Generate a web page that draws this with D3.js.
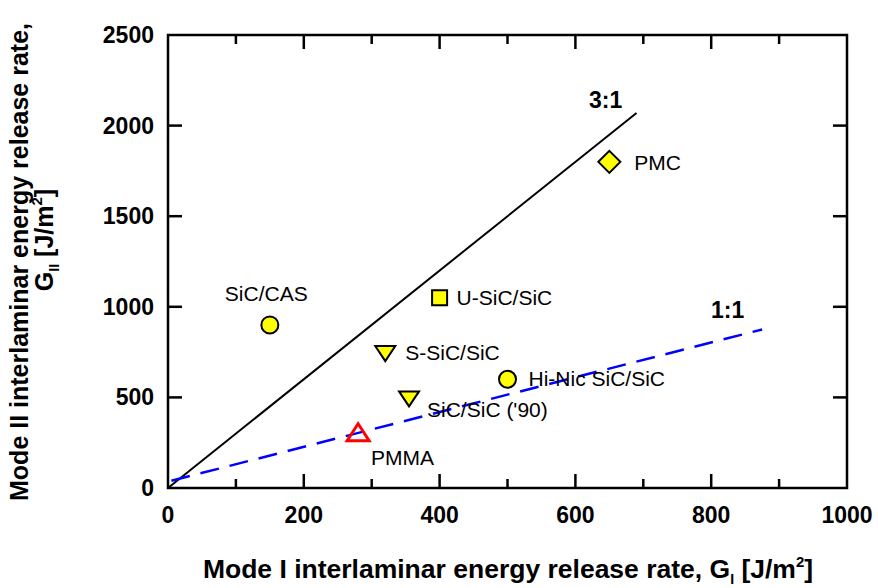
<!DOCTYPE html>
<html>
<head>
<meta charset="utf-8">
<script src="https://cdn.jsdelivr.net/npm/d3@7"></script>
<style>
  body { margin: 0; background: #fff; }
  svg { display: block; font-family: Arial, "Liberation Sans", sans-serif; }
</style>
</head>
<body>
<div id="chart"></div>
<script>
(function (d3) {
    'use strict';

    // materials, G_I and G_II in J/m^2
    var names   = ['SiC/CAS', 'PMC', 'U-SiC/SiC', 'S-SiC/SiC', 'Hi-Nic SiC/SiC', "SiC/SiC ('90)", 'PMMA'];
    var modeI   = [150, 650, 400, 320, 500, 355, 280];
    var modeII  = [900, 1800, 1050, 750, 600, 500, 305];
    var shapes  = ['circle', 'diamond', 'square', 'down', 'circle', 'down', 'up'];

    // reference lines
    var ratio31X = [0, 690];
    var ratio31Y = [0, 2070];
    var ratio11X = [5, 875];
    var ratio11Y = [40, 875];

    var xTicks = [0, 200, 400, 600, 800, 1000];
    var xMinor = [100, 300, 500, 700, 900];
    var yTicks = [0, 500, 1000, 1500, 2000, 2500];

    var width = 878, height = 588,
        left = 168, right = 847, top = 35, bottom = 488;

    var svg = d3.select('#chart').append('svg')
        .attr('width', width)
        .attr('height', height);

    var x = d3.scaleLinear().domain([0, 1000]).range([left, right]),
        y = d3.scaleLinear().domain([0, 2500]).range([bottom, top]);

    // frame
    svg.append('rect')
        .attr('x', left).attr('y', top)
        .attr('width', right - left).attr('height', bottom - top)
        .attr('fill', 'none').attr('stroke', '#000').attr('stroke-width', 2.5);

    // inward ticks on all four sides
    var major = 14, minor = 9;
    function hTicks(vals, len) {
        vals.forEach(function (v) {
            svg.append('line').attr('x1', x(v)).attr('x2', x(v))
                .attr('y1', bottom).attr('y2', bottom - len)
                .attr('stroke', '#000').attr('stroke-width', 2.5);
            svg.append('line').attr('x1', x(v)).attr('x2', x(v))
                .attr('y1', top).attr('y2', top + len)
                .attr('stroke', '#000').attr('stroke-width', 2.5);
        });
    }
    hTicks(xTicks.slice(1, -1), major);
    hTicks(xMinor, minor);
    yTicks.slice(1, -1).forEach(function (v) {
        svg.append('line').attr('x1', left).attr('x2', left + major)
            .attr('y1', y(v)).attr('y2', y(v))
            .attr('stroke', '#000').attr('stroke-width', 2.5);
        svg.append('line').attr('x1', right).attr('x2', right - major)
            .attr('y1', y(v)).attr('y2', y(v))
            .attr('stroke', '#000').attr('stroke-width', 2.5);
    });

    // tick labels
    svg.selectAll('.xt').data(xTicks).enter().append('text')
        .attr('x', function (d) { return x(d); })
        .attr('y', 523)
        .attr('text-anchor', 'middle')
        .attr('font-size', 23).attr('font-weight', 'bold')
        .text(function (d) { return d; });

    svg.selectAll('.yt').data(yTicks).enter().append('text')
        .attr('x', left - 14)
        .attr('y', function (d) { return y(d) + 8; })
        .attr('text-anchor', 'end')
        .attr('font-size', 23).attr('font-weight', 'bold')
        .text(function (d) { return d; });

    // axis titles
    var xt = svg.append('text')
        .attr('x', 508).attr('y', 578)
        .attr('text-anchor', 'middle')
        .attr('font-size', 26.5).attr('font-weight', 'bold');
    xt.append('tspan').text('Mode I interlaminar energy release rate, G');
    xt.append('tspan').attr('font-size', 14).attr('dy', 6).text('I');
    xt.append('tspan').attr('dy', -6).text(' [J/m');
    xt.append('tspan').attr('font-size', 15).attr('dy', -11).text('2');
    xt.append('tspan').attr('dy', 11).text(']');

    var yt = svg.append('g').attr('transform', 'translate(28,262) rotate(-90)');
    yt.append('text')
        .attr('text-anchor', 'middle')
        .attr('font-size', 25).attr('font-weight', 'bold')
        .text('Mode II interlaminar energy release rate,');
    var yt2 = yt.append('text')
        .attr('x', 22).attr('y', 25)
        .attr('text-anchor', 'middle')
        .attr('font-size', 25).attr('font-weight', 'bold');
    yt2.append('tspan').text('G');
    yt2.append('tspan').attr('font-size', 14).attr('dy', 6).text('II');
    yt2.append('tspan').attr('dy', -6).text(' [J/m');
    yt2.append('tspan').attr('font-size', 15).attr('dy', -11).text('2');
    yt2.append('tspan').attr('dy', 11).text(']');

    // reference lines
    svg.append('line')
        .attr('x1', x(ratio31X[0])).attr('y1', y(ratio31Y[0]))
        .attr('x2', x(ratio31X[1])).attr('y2', y(ratio31Y[1]))
        .attr('stroke', '#000').attr('stroke-width', 2);
    svg.append('line')
        .attr('x1', x(ratio11X[0])).attr('y1', y(ratio11Y[0]))
        .attr('x2', x(ratio11X[1])).attr('y2', y(ratio11Y[1]))
        .attr('stroke', '#0000ff').attr('stroke-width', 2.5)
        .attr('stroke-dasharray', '19,11');

    svg.append('text').attr('x', 589).attr('y', 108)
        .attr('font-size', 23).attr('font-weight', 'bold').text('3:1');
    svg.append('text').attr('x', 711).attr('y', 318)
        .attr('font-size', 23).attr('font-weight', 'bold').text('1:1');

    // markers
    var data = names.map(function (n, i) {
        return { name: n, gi: modeI[i], gii: modeII[i], shape: shapes[i] };
    });

    var pathFor = {
        diamond: 'M0,-11L11,0L0,11L-11,0Z',
        square: 'M-7.5,-7.5H7.5V7.5H-7.5Z',
        down: 'M-10,-6H10L0,9Z',
        up: 'M0,-9L11,8H-11Z'
    };

    data.forEach(function (d) {
        var g = svg.append('g')
            .attr('transform', 'translate(' + x(d.gi) + ',' + y(d.gii) + ')');
        if (d.shape === 'circle') {
            g.append('circle').attr('r', 8.5)
                .attr('fill', '#ffff00').attr('stroke', '#000').attr('stroke-width', 2);
        } else if (d.shape === 'up') {
            g.append('path').attr('d', pathFor.up)
                .attr('fill', 'none').attr('stroke', '#ff0000').attr('stroke-width', 3);
        } else {
            g.append('path').attr('d', pathFor[d.shape])
                .attr('fill', '#ffff00').attr('stroke', '#000').attr('stroke-width', 2);
        }
    });

    // point labels (pixel offsets from each marker)
    var labelDx = [-45, 25, 17, 20, 21, 18, 13];
    var labelDy = [-24, 8, 7, 8, 7, 20, 32];
    data.forEach(function (d, i) {
        svg.append('text')
            .attr('x', x(d.gi) + labelDx[i])
            .attr('y', y(d.gii) + labelDy[i])
            .attr('font-size', 21)
            .text(d.name);
    });

})(d3);
</script>
</body>
</html>
